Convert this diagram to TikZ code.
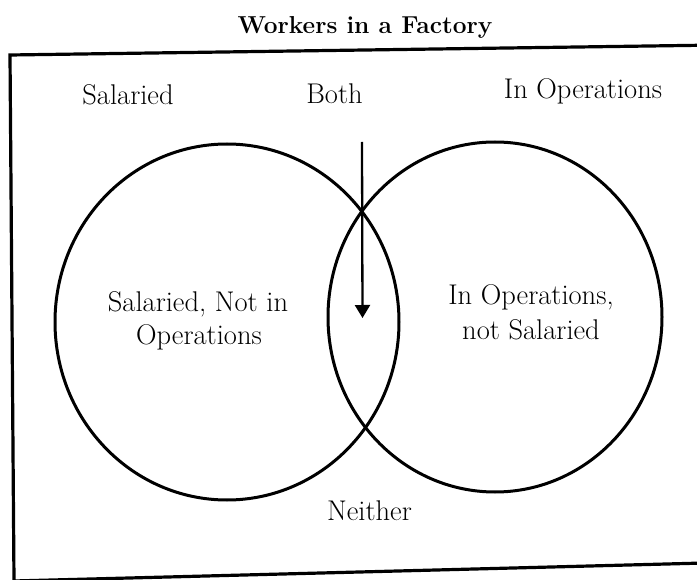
\documentclass[tikz,border=0pt]{standalone}
\usetikzlibrary{arrows.meta,shapes.geometric}
\begin{document}
\begin{tikzpicture}[x=1pt,y=-1pt,
  lbl/.style={font=\fontsize{28.5}{34}\selectfont, inner sep=0pt, anchor=base},
  ttl/.style={font=\fontsize{24.5}{29}\selectfont\bfseries, inner sep=0pt, anchor=base},
  setshape/.style={draw, ellipse, line width=3pt, inner sep=0pt},
  frame/.style={line width=3.2pt},
  arr/.style={line width=2.3pt, -{Triangle[length=13pt,width=15pt]}}]
\useasboundingbox (0,0) rectangle (697,580);
\begin{scope}
\clip (0,0) rectangle (697,580);
\draw[frame] (10,55) -- (720,45) -- (724,562.5) -- (14,581) -- cycle;
\end{scope}
% title
\node[ttl] (title) at (365,34) {Workers in a Factory};
% top labels
\node[lbl] (sal) at (128,105) {Salaried};
\node[lbl] (both) at (334.5,104) {Both};
\node[lbl] (ops) at (583,99) {In Operations};
% sets
\node[setshape, minimum width=344pt, minimum height=356pt] (S) at (227,322) {};
\node[setshape, minimum width=334pt, minimum height=350pt] (O) at (495,317) {};
% region labels
\node[lbl] (sa) at (198,312) {Salaried, Not in};
\node[lbl] (sb) at (199,345) {Operations};
\node[lbl] (oa) at (531,305) {In Operations,};
\node[lbl] (ob) at (531,340) {not Salaried};
\node[lbl] (nei) at (369.5,520) {Neither};
% arrow
\coordinate (atop) at (362,142);
\coordinate (atip) at (362.5,318);
\draw[arr] (atop) -- (atip);
\end{tikzpicture}
\end{document}
